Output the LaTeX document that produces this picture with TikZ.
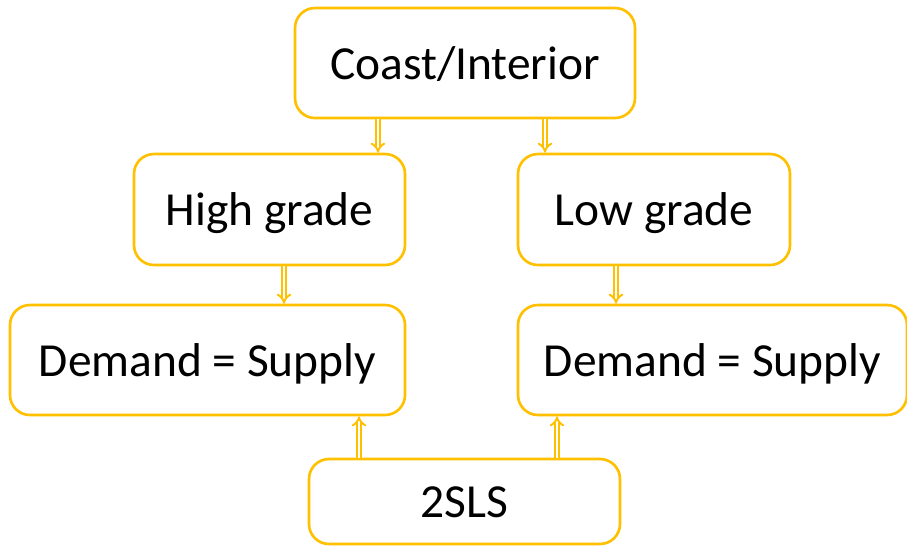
\documentclass[tikz,border=0pt]{standalone}
\usepackage{fontspec}
\setmainfont{Carlito}
\usetikzlibrary{arrows.meta}
\definecolor{gold}{HTML}{FFC000}
\tikzset{
 box/.style={draw=gold,line width=1.5pt,rounded corners=0.4cm,fill=white,
  align=center,inner sep=0pt,text height=20pt,text depth=1.5pt,
  font=\fontsize{27}{32}\selectfont},
 arr/.style={draw=gold,double=white,double distance=1.6pt,line width=1.1pt,-{Implies}}
}
\begin{document}
\begin{tikzpicture}
 \useasboundingbox (0,0) rectangle (18.14,-10.9);
 \node[box,minimum width=6.8cm,minimum height=2.2cm] (coast) at (9.3,-1.26) {Coast/Interior};
 \node[box,minimum width=5.42cm,minimum height=2.22cm] (high) at (5.39,-4.19) {High grade};
 \node[box,minimum width=5.44cm,minimum height=2.22cm] (low) at (13.08,-4.19) {Low grade};
 \node[box,minimum width=7.9cm,minimum height=2.2cm] (dsl) at (4.15,-7.2) {Demand = Supply};
 \node[box,minimum width=7.78cm,minimum height=2.2cm] (dsr) at (14.25,-7.2) {Demand = Supply};
 \node[box,minimum width=6.22cm,minimum height=1.7cm] (tsls) at (9.29,-10.03) {2SLS};
 \draw[arr] ([xshift=-1.74cm]coast.south) -- ([xshift=-1.74cm]coast.south |- high.north);
 \draw[arr] ([xshift=1.6cm]coast.south) -- ([xshift=1.6cm]coast.south |- low.north);
 \draw[arr] ([xshift=0.29cm]high.south) -- ([xshift=0.29cm]high.south |- dsl.north);
 \draw[arr] ([xshift=-0.76cm]low.south) -- ([xshift=-0.76cm]low.south |- dsr.north);
 \draw[arr] ([xshift=-2.11cm]tsls.north) -- ([xshift=-2.11cm]tsls.north |- dsl.south);
 \draw[arr] ([xshift=1.85cm]tsls.north) -- ([xshift=1.85cm]tsls.north |- dsr.south);
\end{tikzpicture}
\end{document}
